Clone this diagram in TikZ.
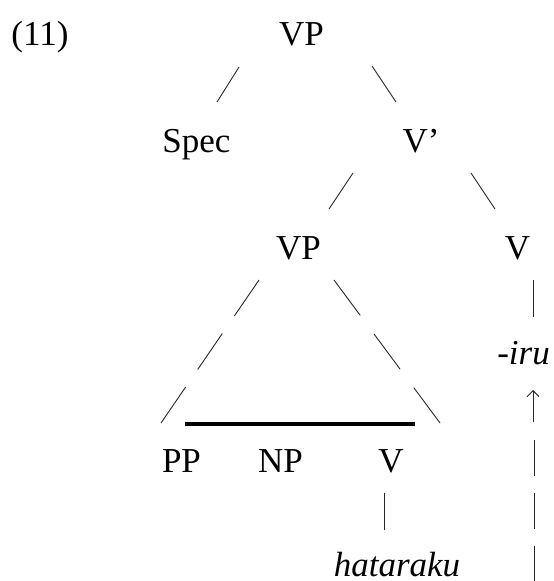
\documentclass[tikz,border=0pt]{standalone}
\usepackage{fontspec}
\setmainfont{Liberation Serif}
\usetikzlibrary{arrows.meta}

\begin{document}
\begin{tikzpicture}[x=1pt, y=-1pt]

    % Define styles
    \tikzstyle{cat} = [inner sep=0pt, anchor=base, font=\fontsize{35}{42}\selectfont]
    \tikzstyle{word} = [inner sep=0pt, anchor=base, font=\fontsize{35}{42}\selectfont\itshape]
    \tikzstyle{branch} = [draw, line width=0.9pt, color=black!85]
    \tikzstyle{roof} = [draw, line width=3.3pt]

    \useasboundingbox (0,0) rectangle (554,581);

    % Nodes
    \node [cat] (ex) at (40,45) {(11)};
    \node [cat] (vp) at (301.5,45) {VP};
    \node [cat] (spec) at (196.5,152) {Spec};
    \node [cat] (vbar) at (421,152) {V’};
    \node [cat] (vpin) at (298.5,259) {VP};
    \node [cat] (vhead) at (517.5,259) {V};
    \node [word] (iru) at (523.5,364) {-iru};
    \node [cat] (pp) at (181.5,472) {PP};
    \node [cat] (np) at (280.5,472) {NP};
    \node [cat] (vlow) at (391,472) {V};
    \node [word] (verb) at (397,576) {hataraku};

    % Branch ends
    \coordinate (tl) at (259,280);
    \coordinate (bl) at (161,423);
    \coordinate (tr) at (334,280);
    \coordinate (br) at (440,423);
    \coordinate (rs) at (185,424);
    \coordinate (re) at (415,424);
    \coordinate (trace) at (534,440);
    \coordinate (tracebot) at (534,581);

    % Paths
    \path [branch] (239,67) -- (217,102);
    \path [branch] (372,66) -- (396,102);
    \path [branch] (353,173) -- (329,209);
    \path [branch] (471,173) -- (495,209);
    \path [branch, dash pattern=on 43.6pt off 21.3pt] (tl) -- (bl);
    \path [branch, dash pattern=on 44pt off 23pt] (tr) -- (br);
    \path [roof] (rs) -- (re);
    \path [branch] (533,280) -- (533,317);
    \path [branch] (384,493) -- (384,530);
    \path [branch, -{Straight Barb[length=6pt, width=12pt]}] (533,422) -- (533,390);
    \path [branch, dash pattern=on 36pt off 17pt] (trace) -- (tracebot);
\end{tikzpicture}
\end{document}
